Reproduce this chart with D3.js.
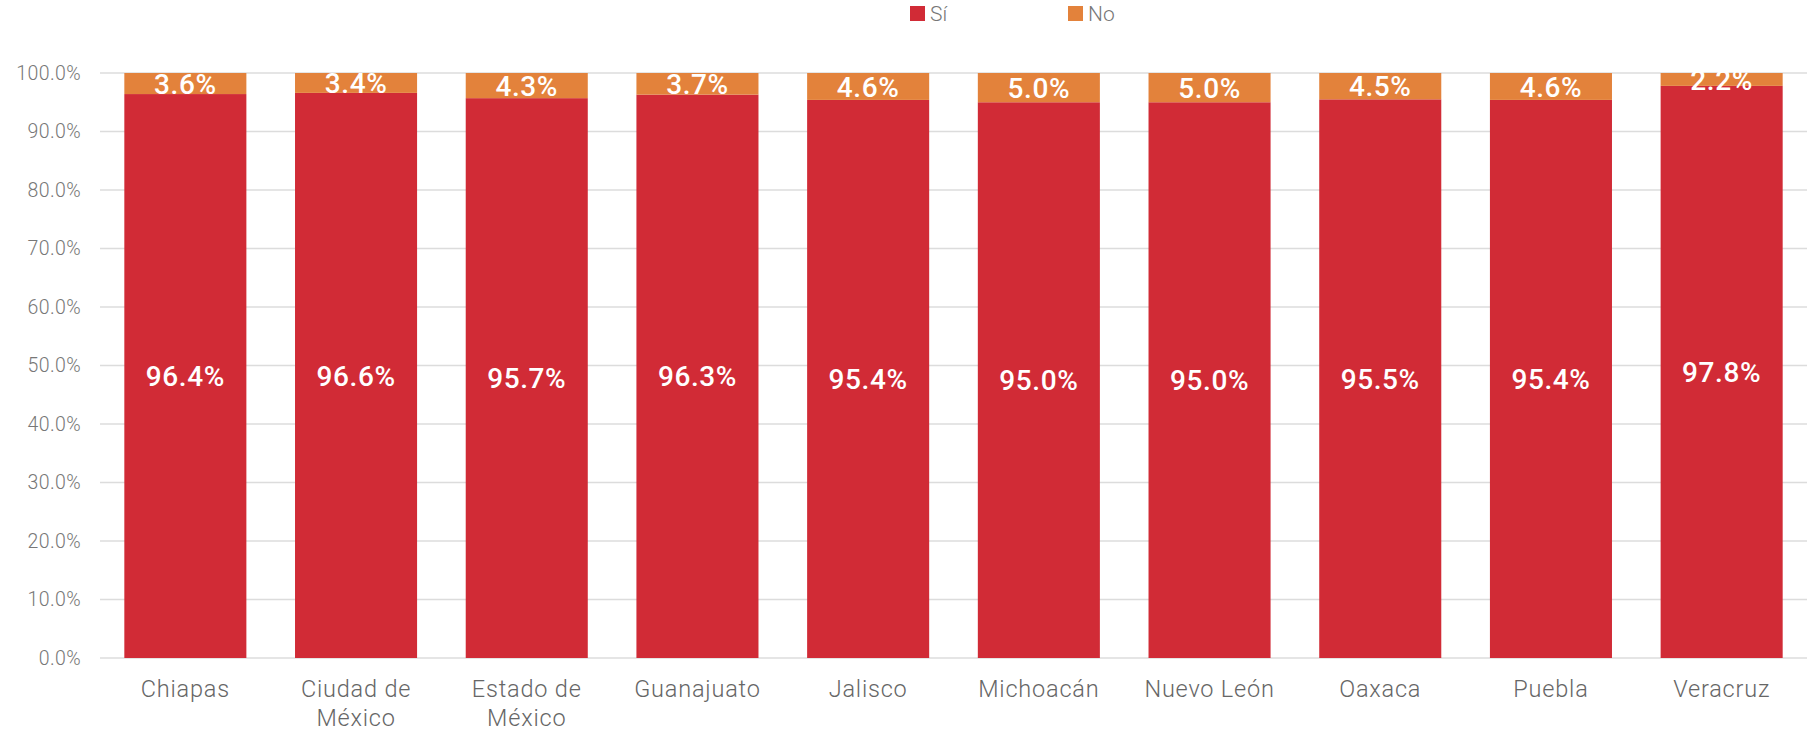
<!DOCTYPE html>
<html><head><meta charset="utf-8">
<script src="https://cdn.jsdelivr.net/npm/d3@7"></script>
<style>
html,body{margin:0;padding:0;background:#fff;}
svg{display:block;font-family:Roboto, "DejaVu Sans", sans-serif;}
</style></head>
<body>
<svg id="chart" width="1807" height="734"></svg>
<script>
const categories = ["Chiapas","Ciudad de México","Estado de México","Guanajuato","Jalisco","Michoacán","Nuevo León","Oaxaca","Puebla","Veracruz"];
const labelLines = [["Chiapas"],["Ciudad de","México"],["Estado de","México"],["Guanajuato"],["Jalisco"],["Michoacán"],["Nuevo León"],["Oaxaca"],["Puebla"],["Veracruz"]];
const siValues = [96.4,96.6,95.7,96.3,95.4,95.0,95.0,95.5,95.4,97.8];
const noValues = [3.6,3.4,4.3,3.7,4.6,5.0,5.0,4.5,4.6,2.2];
const seriesNames = ["Sí","No"];
const yTicks = [0,10,20,30,40,50,60,70,80,90,100];

const colors = {"Sí":"#D12B36","No":"#E3823B"};
const svg = d3.select("#chart");
const plotLeft = 100, plotRight = 1807, plotTop = 73, plotBottom = 658;

const x = d3.scaleBand().domain(categories).range([plotLeft,plotRight]).paddingInner(0.285).paddingOuter(0.1425);
const y = d3.scaleLinear().domain([0,100]).range([plotBottom,plotTop]);

// gridlines
svg.append("g").selectAll("line").data(yTicks).join("line")
  .attr("x1",plotLeft).attr("x2",plotRight)
  .attr("y1",d=>y(d)).attr("y2",d=>y(d))
  .attr("stroke","#dcdcdc").attr("stroke-width",1.5);

// y tick labels
svg.append("g").selectAll("text").data(yTicks).join("text")
  .attr("x",81).attr("y",d=>y(d)).attr("dy","0.35em")
  .attr("text-anchor","end").attr("font-size",19.5).attr("font-weight",300)
  .attr("letter-spacing",0.4)
  .attr("fill","#777").text(d=>d.toFixed(1)+"%");

const rows = categories.map((c,i)=>({cat:c,"Sí":siValues[i],"No":noValues[i]}));
const stack = d3.stack().keys(seriesNames)(rows);

const g = svg.append("g");
stack.forEach(layer=>{
  const key = layer.key;
  g.append("g").selectAll("rect").data(layer).join("rect")
    .attr("x",d=>x(d.data.cat)).attr("width",x.bandwidth())
    .attr("y",d=>y(d[1])).attr("height",d=>y(d[0])-y(d[1]))
    .attr("fill",colors[key]);
  g.append("g").selectAll("text").data(layer).join("text")
    .attr("x",d=>x(d.data.cat)+x.bandwidth()/2)
    .attr("y",d=>(y(d[0])+y(d[1]))/2)
    .attr("dy","0.36em")
    .attr("text-anchor","middle").attr("fill","#fff")
    .attr("font-size",28).attr("font-weight",500).attr("letter-spacing",0.6)
    .text(d=>(d[1]-d[0]).toFixed(1)+"%");
});

// x labels
const xl = svg.append("g");
categories.forEach((c,i)=>{
  const t = xl.append("text").attr("x",x(c)+x.bandwidth()/2).attr("y",697)
    .attr("text-anchor","middle").attr("font-size",23.5).attr("font-weight",300)
    .attr("letter-spacing",0.8).attr("fill","#666");
  labelLines[i].forEach((ln,j)=>{
    t.append("tspan").attr("x",x(c)+x.bandwidth()/2).attr("dy",j===0?0:29).text(ln);
  });
});

// legend
const legendX = [910,1068];
seriesNames.forEach((s,i)=>{
  svg.append("rect").attr("x",legendX[i]).attr("y",6).attr("width",15).attr("height",15).attr("fill",colors[s]);
  svg.append("text").attr("x",legendX[i]+20).attr("y",13.5).attr("dy","0.36em")
    .attr("font-size",21).attr("font-weight",300).attr("fill","#777").text(s);
});
</script>
</body></html>
